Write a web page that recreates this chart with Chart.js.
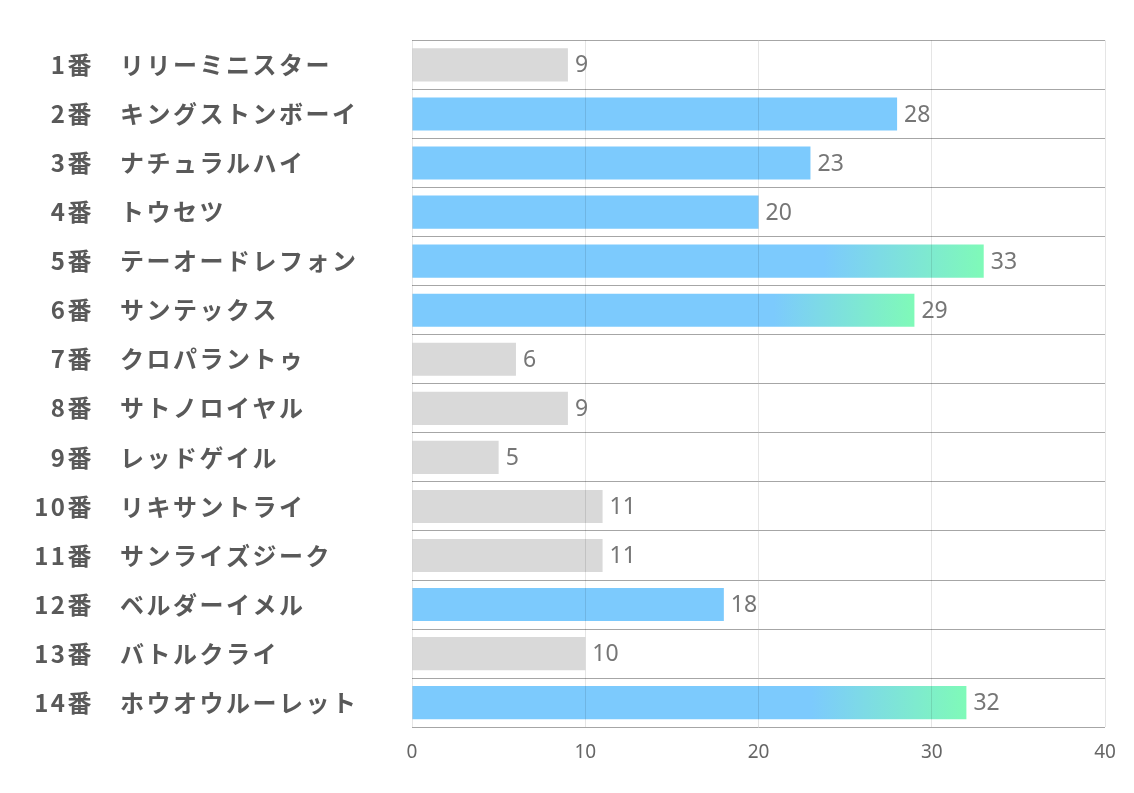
<!DOCTYPE html>
<html><head><meta charset="utf-8">
<script src="https://cdn.jsdelivr.net/npm/chart.js@4.4.1/dist/chart.umd.min.js"></script>
<style>html,body{margin:0;padding:0;background:#fff}</style>
</head><body>
<canvas id="c" width="1134" height="793"></canvas>
<script>
const numbers = ['1番','2番','3番','4番','5番','6番','7番','8番','9番','10番','11番','12番','13番','14番'];
const names = ['リリーミニスター','キングストンボーイ','ナチュラルハイ','トウセツ','テーオードレフォン','サンテックス','クロパラントゥ','サトノロイヤル','レッドゲイル','リキサントライ','サンライズジーク','ベルダーイメル','バトルクライ','ホウオウルーレット'];
const values = [9,28,23,20,33,29,6,9,5,11,11,18,10,32];
const xMin = 0, xMax = 40, xStep = 10;

const GRAY = '#d9d9d9', BLUE = 'rgb(124,202,253)', GREEN = 'rgb(127,250,184)';
const TEXT = '#595959';

const spacingPlugin = {
  id: 'spacing',
  beforeDraw(chart) { chart.ctx.letterSpacing = '2.5px'; },
  beforeDatasetsDraw(chart) { chart.ctx.letterSpacing = '0px'; },
  afterDraw(chart) {
    const ctx = chart.ctx;
    const meta = chart.getDatasetMeta(0);
    ctx.save();
    ctx.letterSpacing = '0px';
    ctx.font = '23px "Noto Sans", "Open Sans", sans-serif';
    ctx.fillStyle = '#767676';
    ctx.textAlign = 'left';
    ctx.textBaseline = 'middle';
    meta.data.forEach((bar, i) => {
      ctx.fillText(String(values[i]), bar.x + 7, bar.y + 1);
    });
    ctx.restore();
  }
};

new Chart(document.getElementById('c'), {
  type: 'bar',
  data: {
    labels: names,
    datasets: [{
      data: values,
      yAxisID: 'y',
      categoryPercentage: 1,
      barPercentage: 0.675,
      borderWidth: 0,
      backgroundColor: (c) => {
        const v = values[c.dataIndex];
        if (v < 15) return GRAY;
        if (v < 29) return BLUE;
        const xs = c.chart.scales.x;
        if (!xs) return BLUE;
        const x0 = xs.getPixelForValue(0), x1 = xs.getPixelForValue(v);
        const g = c.chart.ctx.createLinearGradient(x0, 0, x1, 0);
        g.addColorStop(0, BLUE);
        g.addColorStop(0.72, BLUE);
        g.addColorStop(1, GREEN);
        return g;
      }
    }]
  },
  options: {
    indexAxis: 'y',
    responsive: false,
    animation: false,
    events: [],
    layout: { padding: { left: 0, top: 40, right: 29, bottom: 15 } },
    plugins: { legend: { display: false }, tooltip: { enabled: false } },
    scales: {
      x: {
        type: 'linear', min: xMin, max: xMax,
        ticks: { stepSize: xStep, color: '#666666', font: { family: '"Liberation Sans Narrow", "Noto Sans", sans-serif', size: 19 }, padding: 14, z: 1 },
        grid: { color: 'rgba(0,0,0,0.1)', drawTicks: false, z: 1 },
        border: { display: false }
      },
      y: {
        type: 'category', position: 'left', weight: 0, offset: true,
        grid: { offset: true, color: '#a6a6a6', drawTicks: false },
        border: { display: false },
        ticks: { crossAlign: 'far', autoSkip: false, padding: 0, color: TEXT,
          font: { family: '"Noto Sans CJK JP", sans-serif', size: 24, weight: 'bold' } },
        afterFit: (s) => { s.width = 292; }
      },
      yn: {
        type: 'category', labels: numbers, position: 'left', weight: 1, offset: true,
        grid: { display: false, drawTicks: false },
        border: { display: false },
        ticks: { crossAlign: 'near', autoSkip: false, padding: 26, color: TEXT,
          font: { family: '"Noto Sans CJK JP", sans-serif', size: 24, weight: 'bold' } },
        afterFit: (s) => { s.width = 120; }
      }
    }
  },
  plugins: [spacingPlugin]
});
</script>
</body></html>
